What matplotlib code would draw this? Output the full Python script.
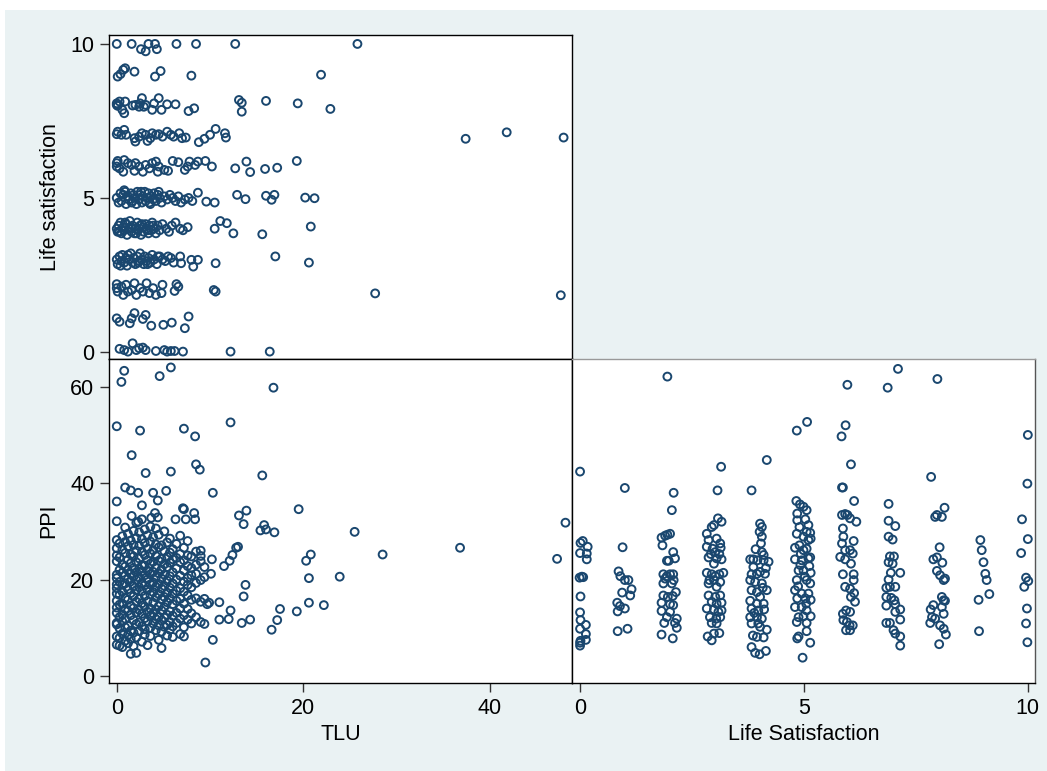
import numpy as np
import matplotlib
matplotlib.use("Agg")
import matplotlib.pyplot as plt
from matplotlib.patches import Rectangle

plt.rcParams['font.family'] = ['Liberation Sans', 'DejaVu Sans']

# ---- TLU vs Life satisfaction (top-left), (tlu, ls) per LS level
tl_ls10 = [(0, 10), (1.6, 10), (2.6, 9.83), (3.1, 9.76), (3.4, 10), (4.1, 10), (4.3, 9.83),
           (6.4, 10), (8.5, 10), (12.7, 10), (25.8, 10)]
tl_ls9 = [(0.1, 8.94), (0.4, 9.02), (0.7, 9.16), (0.9, 9.21), (1.9, 9.1), (4.1, 8.94),
          (4.7, 9.12), (8.0, 8.97), (21.9, 9.0)]
tl_ls8 = [(0, 8.02), (0, 8.07), (0.1, 7.99), (0.3, 8.13), (0.6, 7.86), (0.8, 7.75), (0.9, 8.13),
          (1.7, 8.0), (2.0, 8.02), (2.4, 7.96), (2.5, 8.07), (2.7, 8.24), (2.9, 7.96), (3.1, 8.02),
          (3.8, 7.86), (4.0, 8.07), (4.5, 8.24), (4.8, 7.86), (5.4, 8.04), (6.3, 8.04), (7.7, 7.82),
          (8.3, 7.91), (13.1, 8.18), (13.4, 8.09), (13.4, 7.8), (16.0, 8.15), (19.4, 8.07), (22.9, 7.89)]
tl_ls7 = [(0, 7.07), (0.1, 7.15), (0.5, 7.05), (0.8, 7.21), (1.0, 7.05), (1.9, 6.94), (2.0, 6.83),
          (2.4, 6.99), (2.7, 7.1), (3.1, 7.05), (3.3, 6.85), (3.6, 6.94), (3.8, 7.1), (4.2, 7.05),
          (4.5, 7.07), (4.9, 6.99), (5.4, 7.15), (5.8, 7.05), (6.1, 6.99), (6.7, 7.1), (7.0, 6.94),
          (7.4, 6.96), (8.8, 6.81), (9.4, 6.92), (10.0, 7.05), (10.6, 7.24), (11.6, 7.1), (11.7, 6.96),
          (37.4, 6.92), (41.8, 7.13), (47.9, 6.96)]
tl_ls6 = [(0, 6.13), (0, 6.02), (0.1, 6.2), (0.3, 5.96), (0.7, 5.85), (0.8, 6.23), (1.2, 6.13),
          (1.6, 6.07), (1.9, 5.88), (2.0, 6.13), (2.4, 6.02), (2.8, 5.85), (3.1, 6.07), (3.5, 5.96),
          (3.8, 6.13), (4.2, 6.18), (4.4, 5.85), (4.5, 6.02), (5.1, 5.91), (5.5, 5.88), (6.0, 6.2),
          (6.6, 6.16), (7.3, 5.91), (7.6, 6.02), (7.8, 6.18), (8.4, 6.07), (8.7, 6.18), (9.5, 6.2),
          (10.2, 6.02), (12.7, 5.96), (13.9, 6.18), (14.3, 5.84), (15.9, 5.94), (17.2, 5.98), (19.3, 6.2)]
tl_ls5 = [(0, 5.0), (0.2, 4.85), (0.4, 5.15), (0.5, 4.9), (0.7, 5.1), (0.9, 5.2), (1.0, 4.8),
          (1.2, 5.05), (1.3, 4.95), (1.5, 5.15), (1.6, 4.85), (1.8, 5.1), (1.9, 5.0), (2.1, 4.8),
          (2.2, 5.2), (2.4, 4.95), (2.5, 5.1), (2.7, 4.85), (2.8, 5.05), (3.0, 5.2), (3.1, 4.9),
          (3.3, 5.0), (3.4, 5.15), (3.6, 4.8), (3.7, 5.05), (3.9, 4.95), (4.0, 5.15), (4.2, 4.9),
          (4.4, 5.1), (4.6, 5.0), (4.8, 4.85), (5.1, 5.05), (5.4, 4.95), (5.7, 5.1), (6.0, 5.0),
          (6.3, 4.9), (6.6, 5.05), (6.9, 4.85), (7.3, 4.95), (7.7, 5.0), (8.1, 4.9), (0.8, 5.25),
          (1.7, 4.9), (2.6, 5.2), (3.5, 4.85), (4.5, 5.2), (8.7, 5.17), (9.6, 4.88), (10.5, 4.85),
          (12.9, 5.1), (13.8, 4.96), (16.0, 5.07), (16.6, 4.94), (16.9, 5.1), (20.2, 5.01), (21.2, 4.99)]
tl_ls4 = [(0, 4.0), (0.1, 3.9), (0.2, 4.1), (0.4, 4.2), (0.5, 3.85), (0.7, 4.05), (0.8, 3.95),
          (1.0, 4.15), (1.1, 3.8), (1.3, 4.0), (1.4, 4.25), (1.6, 3.9), (1.7, 4.1), (1.9, 3.85),
          (2.0, 4.0), (2.2, 4.2), (2.3, 3.95), (2.5, 4.1), (2.6, 3.8), (2.8, 4.05), (2.9, 3.9),
          (3.1, 4.15), (3.2, 4.0), (3.4, 3.85), (3.5, 4.1), (3.7, 3.95), (3.8, 4.2), (4.0, 4.0),
          (4.2, 3.85), (4.4, 4.1), (4.6, 3.95), (4.9, 4.15), (5.3, 4.0), (5.6, 3.9), (5.9, 4.1),
          (6.3, 4.2), (6.8, 4.0), (7.1, 3.95), (7.6, 4.05), (0.3, 3.9), (0.9, 4.2), (1.5, 4.05),
          (2.1, 3.85), (2.7, 4.15), (3.3, 3.95), (3.9, 4.1), (10.5, 4.0), (11.1, 4.25), (11.8, 4.18),
          (12.5, 3.85), (15.6, 3.82), (20.8, 4.07)]
tl_ls3 = [(0, 3.0), (0.1, 2.85), (0.3, 3.1), (0.5, 2.95), (0.6, 3.15), (0.8, 2.9), (1.0, 3.05),
          (1.1, 2.8), (1.3, 3.0), (1.5, 3.2), (1.7, 2.9), (1.8, 3.05), (2.0, 2.85), (2.2, 3.1),
          (2.4, 2.95), (2.5, 3.2), (2.7, 3.0), (2.9, 2.85), (3.0, 3.1), (3.2, 2.95), (3.4, 3.05),
          (3.6, 2.9), (3.8, 3.15), (4.0, 3.0), (4.3, 2.85), (4.6, 3.1), (4.9, 3.0), (5.2, 2.95),
          (5.5, 3.1), (5.8, 3.05), (6.1, 2.9), (0.4, 2.8), (1.2, 3.15), (2.3, 2.9), (3.3, 2.85),
          (4.4, 3.1), (6.8, 3.1), (6.9, 2.88), (8.0, 2.99), (8.7, 2.99), (8.2, 2.77), (10.6, 2.88),
          (17.0, 3.1), (20.6, 2.9)]
tl_ls2 = [(0, 2.07), (0, 2.2), (0.1, 1.96), (0.5, 2.12), (0.7, 1.85), (1.0, 2.18), (1.2, 1.96),
          (1.6, 2.01), (1.9, 2.23), (2.1, 1.85), (2.5, 2.07), (2.8, 1.96), (3.2, 2.23), (3.5, 1.91),
          (3.9, 2.07), (4.2, 1.85), (4.8, 1.91), (4.9, 2.18), (6.2, 1.98), (6.4, 2.2), (6.6, 2.12),
          (10.4, 2.01), (10.6, 1.96), (27.7, 1.9), (47.6, 1.84)]
tl_ls1 = [(0, 1.09), (0.3, 0.98), (1.4, 0.93), (1.6, 1.09), (1.9, 1.26), (2.8, 1.07), (3.1, 1.2),
          (3.7, 0.85), (5.0, 0.88), (5.9, 0.95), (7.3, 0.77), (7.7, 1.15)]
tl_ls0 = [(0.3, 0.1), (0.8, 0.06), (1.2, 0.01), (1.7, 0.28), (2.1, 0.06), (2.4, 0.12), (2.8, 0.14),
          (3.1, 0.06), (4.2, 0.03), (5.1, 0.06), (5.4, 0.01), (5.8, 0.03), (6.2, 0.03), (7.1, 0.01),
          (12.2, 0.01), (16.4, 0.01)]

# ---- TLU vs PPI (bottom-left): dense block by TLU value, then the spread-out points
tl_ppi_block = {
    0.0: [28.2, 26.5, 25.0, 23.8, 21.0, 20.3, 19.0, 18.2, 17.1, 15.6, 14.2, 13.1, 11.0, 10.7, 8.2, 6.5],
    0.3: [27.5, 24.6, 22.0, 19.5, 16.8, 14.8, 12.2, 9.9, 7.9, 6.3],
    0.6: [29.0, 26.2, 23.1, 21.4, 18.9, 17.5, 15.0, 12.8, 11.3, 8.8, 6.0],
    0.9: [30.8, 27.8, 25.5, 22.7, 20.8, 19.2, 16.2, 13.9, 11.9, 10.1, 7.3],
    1.2: [29.5, 26.9, 24.1, 21.9, 20.1, 18.0, 15.8, 13.5, 10.4, 8.5, 6.8],
    1.5: [28.1, 25.2, 23.4, 21.2, 19.6, 17.2, 14.6, 12.6, 9.4, 7.7, 4.6],
    1.8: [30.1, 27.2, 24.8, 22.4, 20.6, 18.6, 16.5, 14.1, 11.6, 9.0, 6.2],
    2.1: [31.8, 28.6, 26.0, 23.6, 21.5, 19.9, 17.8, 15.4, 13.2, 10.8, 8.0, 4.8],
    2.4: [29.8, 27.0, 24.4, 22.2, 20.4, 18.4, 16.0, 13.7, 11.1, 9.3],
    2.7: [32.5, 28.4, 25.8, 23.0, 21.7, 19.3, 17.6, 15.1, 12.9, 10.3, 7.1],
    3.0: [30.4, 27.6, 25.1, 22.9, 20.9, 18.8, 16.6, 14.4, 12.0, 9.7, 8.6],
    3.3: [29.2, 26.4, 24.0, 21.8, 20.0, 17.9, 15.5, 13.3, 11.4, 6.4],
    3.6: [31.0, 27.9, 25.4, 23.3, 21.1, 19.0, 16.9, 14.0, 12.4, 10.0, 8.3],
    3.9: [28.8, 26.1, 23.7, 21.6, 19.4, 17.4, 15.2, 13.0, 10.9],
    4.2: [30.6, 27.3, 24.9, 22.5, 20.5, 18.5, 16.3, 13.8, 11.8, 9.5],
    4.5: [29.3, 26.7, 23.9, 21.3, 19.1, 17.0, 14.5, 12.3, 10.5, 7.5],
    4.8: [27.1, 24.3, 22.1, 20.2, 18.1, 15.9, 13.6, 11.5, 9.2, 5.8],
    5.1: [30.0, 25.9, 23.2, 21.0, 18.7, 16.4, 14.3, 12.1, 10.2],
    5.4: [27.7, 24.7, 22.6, 19.8, 17.3, 15.3, 12.7, 10.6, 8.4],
    5.7: [28.5, 25.6, 23.5, 20.7, 18.3, 16.1, 13.4, 11.2, 9.6],
    6.0: [26.3, 24.2, 21.5, 19.2, 17.1, 14.9, 12.5, 10.3, 8.1],
    6.4: [27.4, 24.5, 22.3, 20.0, 17.7, 15.6, 13.1, 11.0],
    6.8: [29.1, 25.3, 23.6, 20.8, 18.2, 16.0, 14.0, 11.9, 8.7],
    7.2: [26.6, 24.0, 21.9, 19.6, 17.5, 15.0, 12.6, 10.1, 8.2],
    7.6: [28.0, 25.0, 22.8, 20.3, 18.9, 16.7, 13.9, 11.7],
    8.0: [24.8, 22.4, 20.9, 18.4, 15.8, 13.0, 10.9],
    8.5: [25.8, 23.1, 21.2, 19.3, 16.1, 12.2],
    9.0: [26.0, 24.9, 23.8, 19.9, 15.4, 11.2],
    9.4: [22.6, 20.5, 16.0, 10.8],
}
tl_ppi_spread = [(0.8, 63.3), (0.5, 61.0), (5.8, 64.0), (4.6, 62.2), (16.8, 59.8), (0, 51.8),
                 (2.5, 50.9), (7.2, 51.3), (8.4, 49.7), (12.2, 52.6), (1.6, 45.8), (8.5, 43.9),
                 (8.9, 42.8), (3.1, 42.1), (5.8, 42.4), (15.6, 41.6), (10.3, 38.0), (0, 36.2),
                 (0.9, 39.1), (1.5, 38.5), (2.3, 38.0), (3.9, 38.0), (4.4, 36.4), (5.3, 38.4),
                 (2.7, 35.4), (7.1, 34.8), (7.2, 34.6), (8.3, 33.8), (0, 32.1), (1.6, 33.2),
                 (2.3, 32.0), (3.7, 32.8), (4.1, 33.8), (4.4, 32.9), (6.3, 32.5), (7.4, 32.5),
                 (8.4, 32.5), (13.1, 33.3), (13.9, 34.3), (13.6, 31.5), (19.5, 34.6), (15.4, 30.2),
                 (15.8, 31.3), (16.0, 30.4), (16.9, 29.8), (25.5, 29.9), (28.5, 25.2), (36.8, 26.6),
                 (47.2, 24.3), (48.1, 31.8), (10.2, 24.2), (11.5, 22.8), (12.1, 23.9), (12.4, 25.1),
                 (12.8, 26.6), (13.0, 26.8), (10.1, 21.2), (13.8, 18.9), (13.6, 16.5), (11.0, 15.3),
                 (9.9, 15.2), (9.7, 14.9), (11.0, 11.7), (12.0, 11.8), (12.2, 13.6), (13.4, 11.0),
                 (14.3, 11.7), (16.6, 9.6), (17.2, 11.6), (17.5, 13.9), (19.3, 13.4), (20.6, 15.2),
                 (22.2, 14.7), (23.9, 20.6), (20.6, 20.3), (20.3, 23.9), (20.8, 25.2), (10.3, 7.5),
                 (9.5, 2.8)]

# ---- Life satisfaction vs PPI (bottom-right), (ls, ppi) per LS level
ls_ppi0 = [(0.0, 42.4), (0.01, 27.6), (0.06, 28.0), (0.17, 26.8), (0.0, 25.5), (0.15, 25.4), (0.15, 24.2),
           (-0.01, 20.4), (0.04, 20.6), (0.07, 20.5), (0.01, 16.5), (0.0, 13.2), (0.01, 11.6), (0.13, 10.6),
           (0.0, 9.8), (0.13, 8.7), (0.01, 7.3), (0.0, 6.9), (0.0, 6.3), (0.13, 7.5)]
ls_ppi1 = [(1.0, 39.0), (0.95, 26.7), (0.86, 21.7), (0.9, 20.7), (1.0, 19.9), (1.08, 19.9), (1.15, 18.0),
           (0.94, 17.3), (1.12, 16.7), (0.83, 15.2), (0.89, 14.5), (1.0, 14.0), (0.84, 13.4), (0.84, 9.3),
           (1.06, 9.8)]
ls_ppi2 = [(1.95, 62.1), (2.09, 38.0), (2.05, 34.4), (1.82, 28.7), (1.9, 29.1), (1.95, 29.3), (2.01, 29.5),
           (1.84, 27.1), (2.08, 25.7), (2.12, 24.4), (1.94, 23.9), (1.98, 23.9), (1.86, 21.1), (1.94, 20.7),
           (2.01, 21.1), (2.08, 21.1), (1.9, 20.2), (2.09, 19.9), (1.86, 19.2), (2.05, 19.2), (2.14, 17.4),
           (1.86, 16.7), (1.96, 16.4), (2.07, 16.6), (1.82, 15.2), (2.01, 14.9), (2.08, 14.7), (1.82, 13.5),
           (2.01, 13.3), (1.94, 12.2), (2.16, 11.9), (1.88, 11.0), (2.12, 11.0), (2.16, 10.0), (1.82, 8.6),
           (2.07, 7.8)]
ls_ppi3 = [(3.15, 43.4), (3.07, 38.5), (2.83, 29.5), (2.94, 30.9), (2.99, 31.3), (3.08, 32.7), (3.16, 32.0),
           (2.87, 28.2), (3.05, 28.5), (3.13, 27.5), (2.83, 26.8), (2.96, 26.4), (3.14, 26.6), (3.02, 25.7),
           (3.11, 25.3), (2.92, 25.3), (3.05, 24.4), (3.16, 24.2), (2.87, 24.6), (2.99, 23.3), (2.83, 21.4),
           (2.94, 21.1), (3.02, 20.7), (3.11, 21.1), (3.20, 21.4), (2.87, 19.2), (2.99, 19.9), (3.13, 19.5),
           (3.05, 18.5), (2.87, 16.7), (3.02, 16.4), (3.13, 16.7), (2.94, 15.4), (3.05, 15.0), (3.16, 15.2),
           (2.83, 14.0), (2.99, 13.8), (3.09, 13.3), (2.90, 12.2), (3.04, 11.9), (3.13, 12.2), (2.94, 11.0),
           (3.05, 10.9), (2.85, 8.2), (2.94, 7.4), (3.11, 8.9), (2.99, 8.8), (3.16, 13.6), (2.89, 19.9)]
ls_ppi4 = [(4.17, 44.8), (3.83, 38.5), (4.02, 31.6), (4.06, 30.9), (4.01, 29.9), (4.06, 28.9), (4.04, 27.5),
           (4.06, 25.7), (4.10, 25.1), (3.80, 24.2), (3.87, 24.2), (3.96, 24.0), (4.10, 24.0), (4.21, 23.7),
           (3.83, 21.1), (3.95, 21.2), (4.02, 21.6), (4.13, 21.2), (3.80, 19.9), (3.91, 19.5), (4.06, 19.2),
           (4.17, 17.8), (3.83, 17.8), (3.95, 17.4), (4.02, 16.4), (3.80, 15.6), (3.95, 15.0), (4.10, 15.0),
           (3.83, 14.0), (3.98, 13.6), (4.11, 13.8), (3.80, 12.2), (3.95, 12.2), (4.06, 11.9), (3.83, 10.9),
           (3.98, 10.9), (4.02, 10.2), (4.17, 9.6), (3.86, 8.4), (3.95, 8.1), (4.10, 8.0), (3.83, 6.0),
           (3.91, 4.8), (4.01, 4.5), (4.15, 5.2), (3.87, 22.6), (4.15, 22.4), (3.92, 26.3), (4.08, 18.3),
           (3.89, 13.1)]
ls_ppi5 = [(4.84, 50.9), (5.07, 52.7), (4.83, 36.3), (4.91, 35.6), (4.99, 35.1), (4.85, 33.7), (5.06, 34.4),
           (4.85, 32.3), (5.03, 32.5), (5.10, 31.3), (4.90, 30.9), (5.06, 29.9), (5.14, 29.7), (4.84, 29.5),
           (4.99, 28.9), (5.10, 28.2), (5.15, 28.5), (4.90, 27.1), (4.80, 26.6), (5.06, 26.4), (4.99, 26.1),
           (5.14, 24.6), (4.80, 24.2), (4.95, 24.0), (5.10, 24.4), (4.88, 21.9), (4.99, 21.9), (5.15, 21.4),
           (4.84, 19.9), (5.06, 19.9), (5.14, 19.2), (4.80, 17.8), (4.95, 17.1), (5.10, 17.1), (4.85, 16.1),
           (5.03, 16.1), (5.15, 15.8), (4.95, 14.3), (4.80, 14.3), (5.06, 13.6), (4.88, 12.2), (4.99, 12.4),
           (5.15, 12.4), (4.84, 11.2), (5.06, 11.0), (4.88, 8.2), (4.85, 7.8), (5.06, 9.3), (5.14, 6.9),
           (4.97, 3.8), (4.92, 23.0), (5.02, 20.6), (4.87, 18.6), (5.12, 22.8), (4.93, 25.3), (5.05, 15.0)]
ls_ppi6 = [(5.97, 60.4), (5.93, 52.0), (5.84, 49.7), (6.05, 43.9), (5.85, 39.1), (5.87, 39.1), (6.12, 36.3),
           (5.85, 33.4), (5.92, 33.6), (5.97, 33.4), (6.03, 32.7), (6.17, 32.0), (5.87, 30.6), (5.88, 28.9),
           (6.11, 28.0), (5.85, 27.5), (5.92, 26.1), (6.03, 26.1), (6.09, 25.4), (5.81, 24.7), (5.92, 24.2),
           (6.05, 23.3), (5.87, 21.1), (6.11, 21.1), (6.11, 19.9), (5.92, 18.5), (6.03, 18.1), (6.12, 17.2),
           (6.05, 16.4), (6.14, 15.4), (5.87, 12.9), (5.94, 13.6), (6.03, 13.3), (5.88, 11.6), (5.96, 11.2),
           (6.02, 10.5), (6.09, 10.5), (5.94, 9.5), (6.03, 9.5)]
ls_ppi7 = [(6.87, 59.8), (7.10, 63.7), (6.89, 35.7), (6.89, 32.2), (7.04, 31.1), (6.89, 28.9), (6.98, 28.3),
           (6.92, 24.8), (7.01, 24.8), (6.89, 23.6), (6.98, 23.3), (6.94, 21.4), (7.15, 21.4), (6.89, 20.0),
           (6.84, 18.3), (6.92, 18.5), (7.04, 18.5), (6.84, 16.4), (6.95, 16.2), (7.02, 15.7), (6.84, 14.6),
           (7.04, 14.9), (7.15, 13.8), (7.04, 13.3), (6.84, 11.0), (6.92, 11.0), (7.15, 11.7), (7.00, 9.5),
           (7.04, 8.8), (7.15, 8.2), (7.15, 6.3)]
ls_ppi8 = [(7.98, 61.6), (7.84, 41.3), (8.14, 34.9), (7.93, 33.0), (7.97, 33.4), (8.08, 33.0), (8.03, 26.7),
           (7.89, 24.2), (7.97, 24.6), (8.09, 23.5), (7.97, 21.8), (8.04, 20.9), (8.12, 19.9), (8.15, 20.2),
           (8.08, 16.4), (8.12, 15.7), (8.15, 15.6), (7.89, 14.7), (7.83, 13.8), (8.08, 14.3), (7.86, 12.2),
           (8.12, 12.9), (7.82, 11.0), (7.93, 11.9), (8.04, 10.5), (8.12, 9.8), (8.17, 8.6), (8.02, 6.6)]
ls_ppi9 = [(8.94, 28.2), (8.97, 26.1), (9.01, 23.6), (9.05, 21.2), (9.08, 19.9), (9.14, 17.0), (8.90, 15.8),
           (8.91, 9.3)]
ls_ppi10 = [(10.0, 50.0), (9.99, 39.9), (9.87, 32.5), (10.0, 28.4), (9.85, 25.5), (9.96, 20.4), (10.01, 19.7),
            (9.92, 18.5), (9.98, 14.0), (9.96, 10.9), (9.99, 7.0)]

navy = "#1a476f"
bg = "#eaf2f3"

def xy(rows):
    a = np.array([p for r in rows for p in r], dtype=float)
    return a[:, 0], a[:, 1]

tlu_a, ls_a = xy([tl_ls10, tl_ls9, tl_ls8, tl_ls7, tl_ls6, tl_ls5, tl_ls4, tl_ls3, tl_ls2, tl_ls1, tl_ls0])
block = [(k, v) for k, vals in tl_ppi_block.items() for v in vals]
tlu_b, ppi_b = xy([block, tl_ppi_spread])
ls_c, ppi_c = xy([ls_ppi0, ls_ppi1, ls_ppi2, ls_ppi3, ls_ppi4, ls_ppi5, ls_ppi6, ls_ppi7,
                  ls_ppi8, ls_ppi9, ls_ppi10])

W, H = 1047, 771
fig = plt.figure(figsize=(W / 100, H / 100), dpi=100, facecolor="white")
fig.patches.append(Rectangle((5 / W, 0), 1, 1 - 10 / H, transform=fig.transFigure,
                             facecolor=bg, edgecolor="none", zorder=-10))

def box(x0, y0, x1, y1):
    return [x0 / W, 1 - y1 / H, (x1 - x0) / W, (y1 - y0) / H]

axA = fig.add_axes(box(109, 35, 572, 359))
axB = fig.add_axes(box(109, 359, 572, 683))
axC = fig.add_axes(box(572, 359, 1035, 683))

mk = dict(s=32, facecolors="none", edgecolors=navy, linewidths=1.4, clip_on=False)
axA.scatter(tlu_a, ls_a, **mk)
axB.scatter(tlu_b, ppi_b, **mk)
axC.scatter(ls_c, ppi_c, **mk)

axA.set_xlim(-0.83, 48.8)
axA.set_ylim(-0.23, 10.29)
axB.set_xlim(-0.83, 48.8)
axB.set_ylim(-1.45, 65.75)
axC.set_xlim(-0.18, 10.16)
axC.set_ylim(-1.45, 65.75)

fs = 15.5
for ax in (axA, axB, axC):
    ax.set_facecolor("white")
    for s in ax.spines.values():
        s.set_color("black")
        s.set_linewidth(1.0)
    ax.tick_params(direction="out", length=6.5, width=1, labelsize=fs, pad=4, color="#333333")

axA.set_yticks([0, 5, 10])
axA.set_xticks([])
axA.set_ylabel("Life satisfaction", fontsize=fs, labelpad=7)

axB.set_yticks([0, 20, 40, 60])
axB.set_xticks([0, 20, 40])
axB.set_ylabel("PPI", fontsize=fs, labelpad=8)
axB.set_xlabel("TLU", fontsize=fs, labelpad=4)

axC.set_xticks([0, 5, 10])
axC.set_yticks([])
axC.set_xlabel("Life Satisfaction", fontsize=fs, labelpad=4)
axC.spines["top"].set_color("#999999")
axC.spines["right"].set_color("#555555")

fig.savefig("out.png", dpi=100, facecolor="white")
